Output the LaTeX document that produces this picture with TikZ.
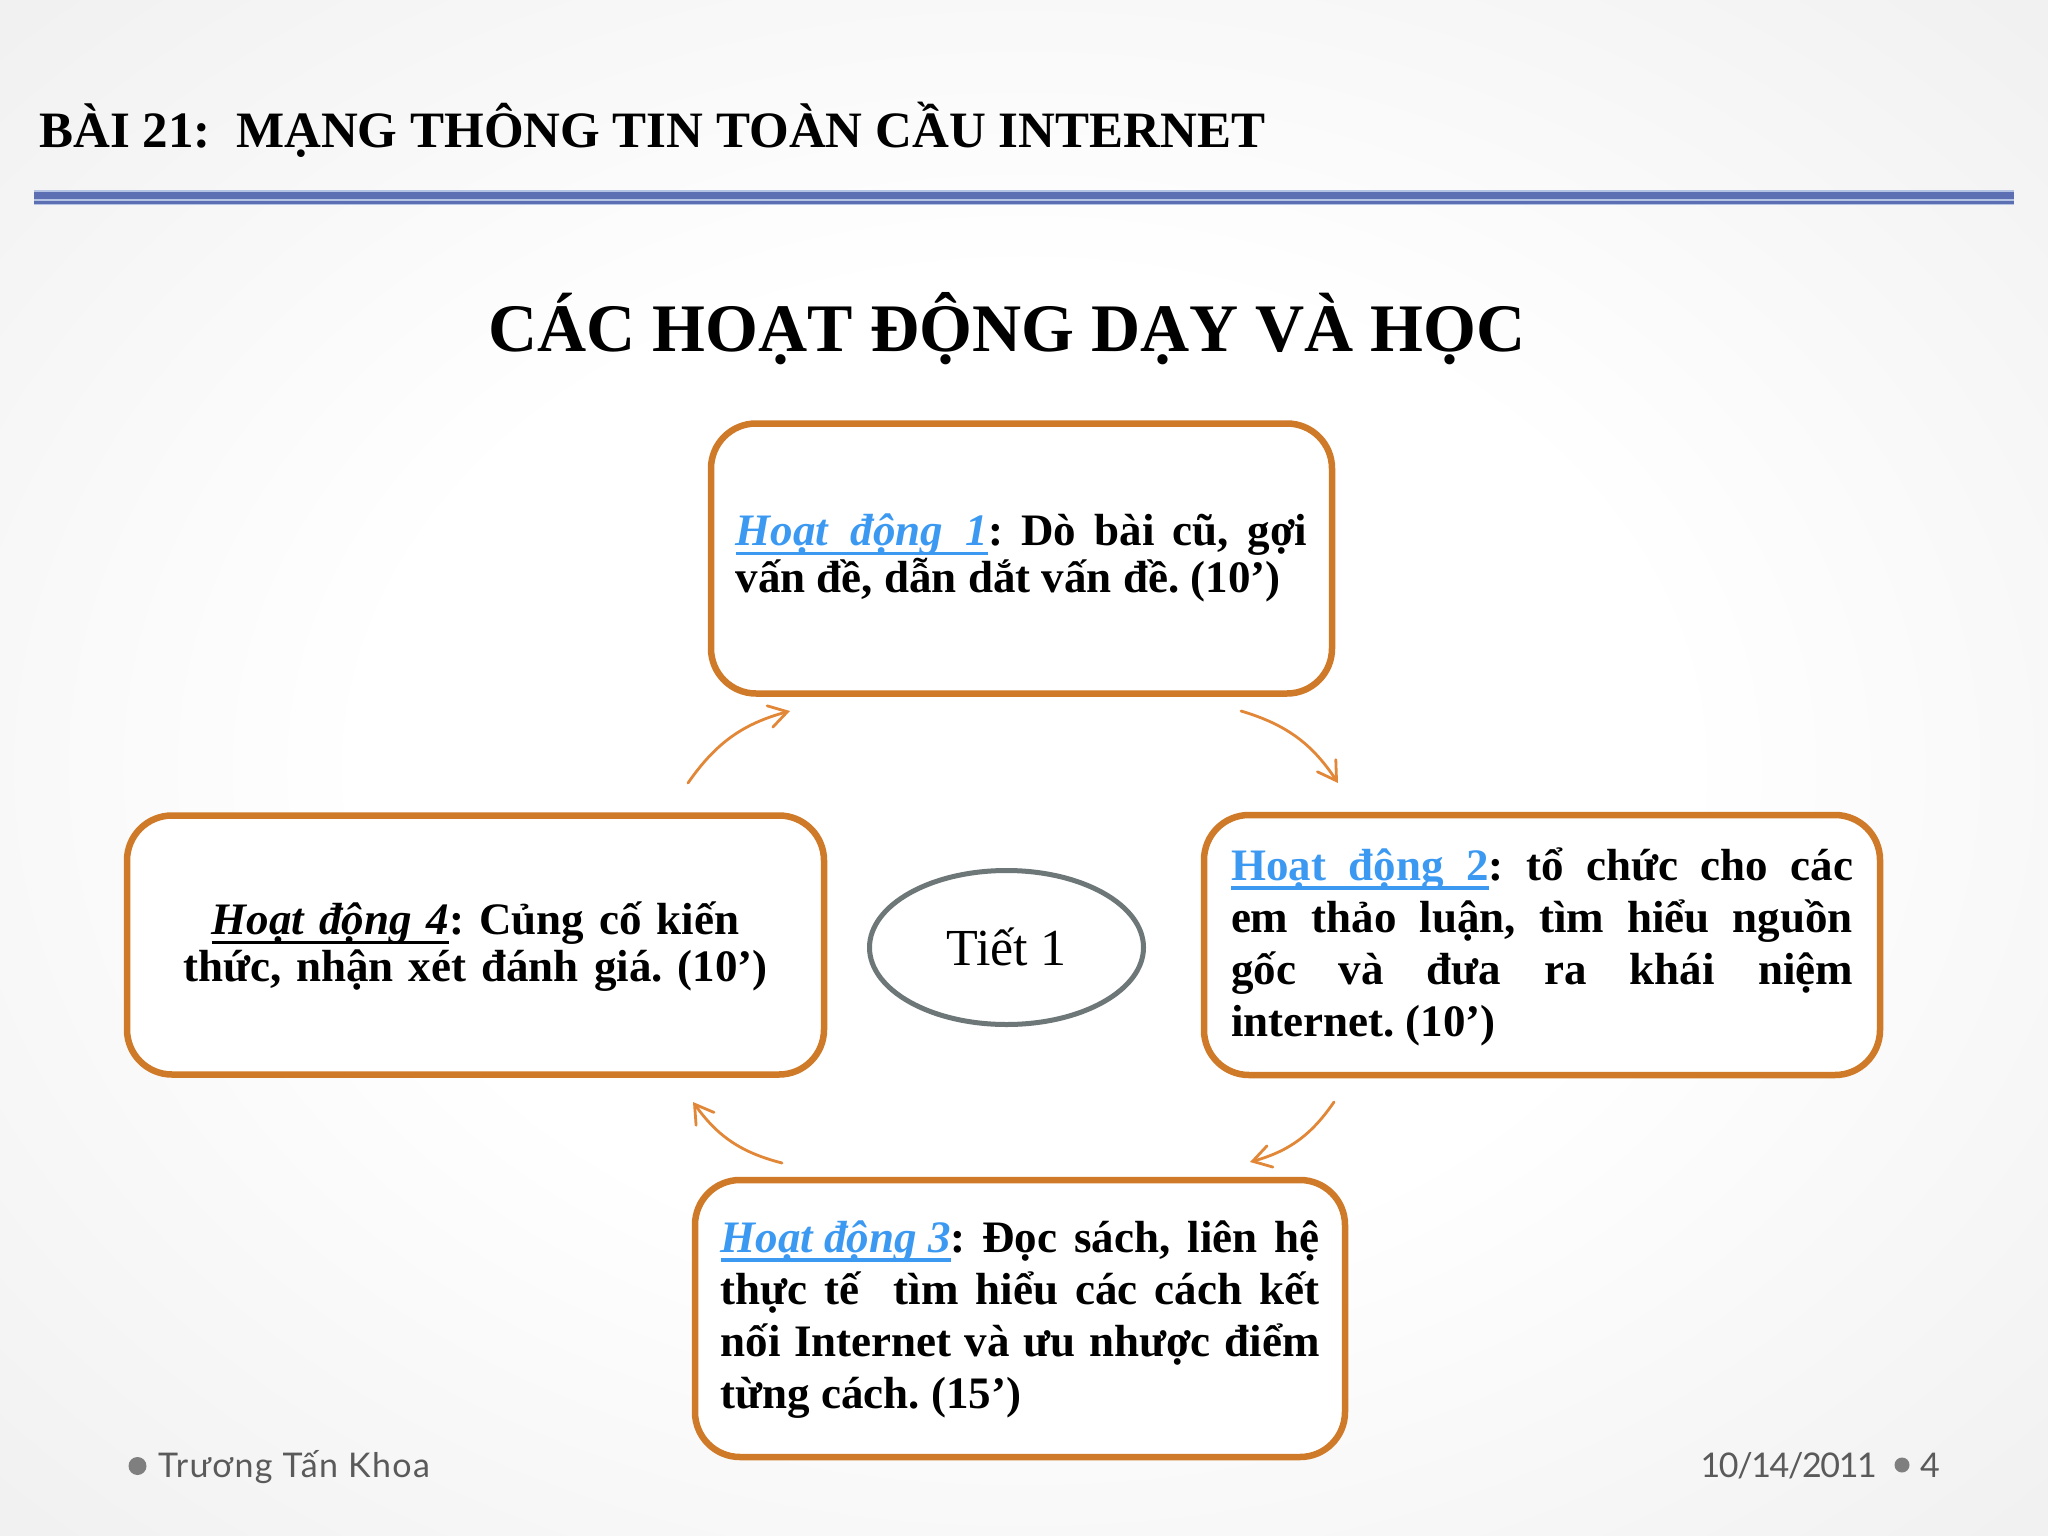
\documentclass[tikz,border=0pt]{standalone}
\usepackage{fontspec}
\setmainfont{Liberation Serif}
\newfontfamily\footfont{Lato}[LetterSpace=4]
\newfontfamily\datefont{Lato}[LetterSpace=-4]
\usetikzlibrary{arrows.meta,shapes.geometric}
\definecolor{boxorange}{HTML}{CF7A28}
\definecolor{arroworange}{HTML}{E18737}
\definecolor{hdblue}{HTML}{3C99F2}
\definecolor{bandblue}{HTML}{5B6FB2}
\definecolor{bandlight}{HTML}{B4C2E4}
\definecolor{ellgray}{HTML}{6E7778}
\definecolor{footgray}{HTML}{5A5A5A}
\definecolor{bulletgray}{HTML}{7F7F7F}
\newsavebox\hdulbox
\newcommand\hdul[1]{\sbox\hdulbox{#1}\rlap{\rule[-9.5pt]{\wd\hdulbox}{3.5pt}}\usebox\hdulbox}
\newcommand\boxfontA{\bfseries\fontsize{45}{52}\selectfont\frenchspacing\tolerance=10000\relax\hyphenpenalty=10000\relax}
\newcommand\boxfontB{\bfseries\fontsize{45}{47}\selectfont\frenchspacing\tolerance=10000\relax\hyphenpenalty=10000\relax}
\pgfdeclareradialshading{bgshade}{\pgfpoint{0bp}{0bp}}{color(0bp)=(white);color(16bp)=(white);color(50bp)=(gray!20);color(72bp)=(gray!36)}
\tikzset{
  actbox/.style={draw=boxorange, line width=6.5pt, fill=white, rounded corners=45pt,
    inner xsep=0pt, inner ysep=0pt, font=\boxfontA},
  cyclearrow/.style={draw=arroworange, line width=2.8pt, line cap=round,
    -{Straight Barb[length=18pt,width=22pt,line cap=round]}, bend left=20},
  footbullet/.style={circle, fill=bulletgray, inner sep=0pt},
  foottext/.style={inner sep=0pt, text=footgray, font=\footfont\fontsize{34}{34}\selectfont}
}
\begin{document}
\begin{tikzpicture}[x=1pt,y=-1pt]
\useasboundingbox (0,0) rectangle (2048,1536);
\shade[shading=bgshade] (0,0) rectangle (2048,1536);

% header
\node[anchor=base west, inner sep=0pt, font=\bfseries\fontsize{51}{51}\selectfont] (hdr) at (39,147)
  {BÀI 21:\ \ MẠNG THÔNG TIN TOÀN CẦU INTERNET};
\fill[bandlight] (34,189.5) rectangle (2014,205);
\fill[bandblue] (34,191.5) rectangle (2014,198.5);
\fill[bandblue] (34,200.8) rectangle (2014,203.8);

% title
\node[anchor=base, inner sep=0pt, font=\bfseries\fontsize{68}{68}\selectfont] (title) at (1007,351)
  {CÁC HOẠT ĐỘNG DẠY VÀ HỌC};

% boxes
\node[actbox, minimum width=621pt, minimum height=270pt, text width=572pt, align=justify,
      text height=122pt, text depth=148pt, font=\boxfontB]
  (b1) at (1021.5,558.5)
  {{\color{hdblue}\itshape\hdul{Hoạt\ \ động\ \ 1}}: Dò bài cũ, gợi\linebreak vấn đề, dẫn dắt vấn đề. (10’)};

\node[actbox, minimum width=676pt, minimum height=260pt, text width=622pt, align=justify,
      text height=65pt, text depth=195pt]
  (b2) at (1542,945)
  {{\color{hdblue}\hdul{Hoạt\ \ động\ \ 2}}: tổ chức cho các\linebreak em thảo luận, tìm hiểu nguồn\linebreak gốc và đưa ra khái niệm\linebreak internet. (10’)};

\node[actbox, minimum width=650pt, minimum height=277pt, text width=599pt, align=justify,
      text height=72pt, text depth=205pt]
  (b3) at (1020,1318.5)
  {{\color{hdblue}\itshape\hdul{Hoạt động 3}}: Đọc sách, liên hệ\linebreak thực tế\ \ tìm hiểu các cách kết\linebreak nối Internet và ưu nhược điểm\linebreak từng cách. (15’)};

\node[actbox, minimum width=697pt, minimum height=259pt, text width=650pt, align=center,
      text height=119pt, text depth=140pt, font=\boxfontB]
  (b4) at (475.5,945)
  {{\itshape\hdul{Hoạt động 4}}: Củng cố kiến\\ thức, nhận xét đánh giá. (10’)};

% centre ellipse
\node[ellipse, draw=ellgray, line width=5pt, fill=white, minimum width=274pt, minimum height=154pt,
      inner sep=0pt, text height=36pt, text depth=0pt, font=\fontsize{52}{52}\selectfont]
  (e) at (1006.5,947.5) {Tiết 1};

% arrows
\coordinate (a41s) at (688,783);  \coordinate (a41e) at (790,711);
\coordinate (a12s) at (1241,711); \coordinate (a12e) at (1338,783);
\coordinate (a23s) at (1334,1102); \coordinate (a23e) at (1250,1162);
\coordinate (a34s) at (782,1163); \coordinate (a34e) at (693,1102);
\draw[cyclearrow] (a41s) to (a41e);
\draw[cyclearrow] (a12s) to (a12e);
\draw[cyclearrow] (a23s) to (a23e);
\draw[cyclearrow] (a34s) to (a34e);

% footer
\node[footbullet, minimum size=18pt] (fb1) at (137.5,1466) {};
\node[foottext, anchor=base west] (name) at (158,1477) {Trương Tấn Khoa};
\node[foottext, anchor=base east, font=\datefont\fontsize{34}{34}\selectfont] (date) at (1877,1477) {10/14/2011};
\node[footbullet, minimum size=15pt] (fb2) at (1902,1465) {};
\node[foottext, anchor=base west] (page) at (1920,1477) {4};
\end{tikzpicture}
\end{document}
